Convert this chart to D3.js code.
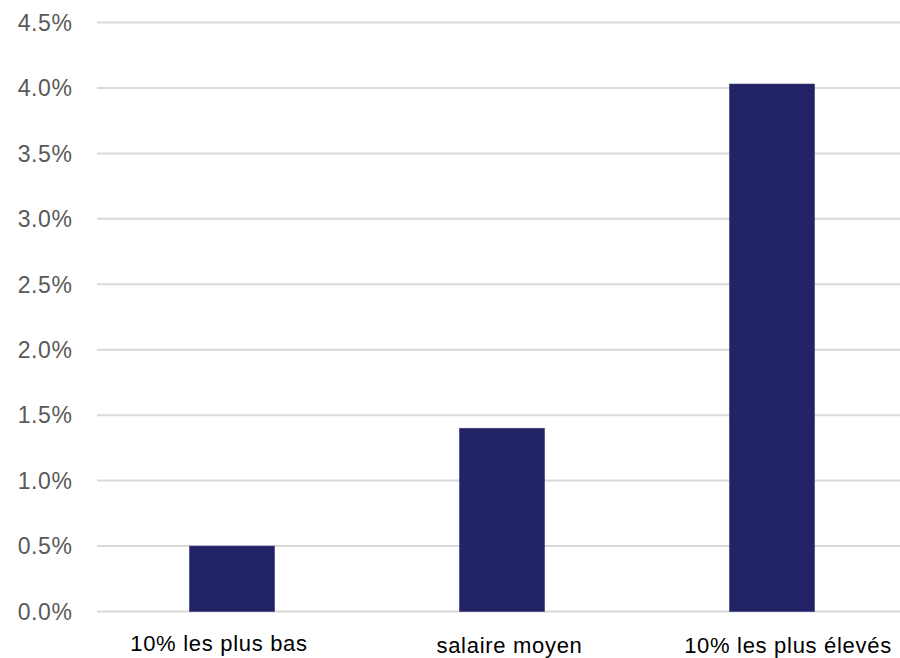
<!DOCTYPE html>
<html>
<head>
<meta charset="utf-8">
<script src="https://cdn.jsdelivr.net/npm/d3@7"></script>
<style>
  html, body { margin: 0; padding: 0; background: #fff; }
  svg { display: block; }
</style>
</head>
<body>
<svg id="chart" width="900" height="658"></svg>
<script>
const categories = ["10% les plus bas", "salaire moyen", "10% les plus élevés"];
const values = [0.5, 1.4, 4.03];
const yTicks = [0, 0.5, 1.0, 1.5, 2.0, 2.5, 3.0, 3.5, 4.0, 4.5];
const labelShift = [-13, 7.5, 16];

const svg = d3.select("#chart");
const W = 900, H = 658;

const x = d3.scaleBand().domain(categories).range([97, 907])
  .paddingInner(0.685).paddingOuter(0.3425);
const y = d3.scaleLinear().domain([0, 4.5]).range([611.5, 22.5]);

// grid lines
svg.append("g").selectAll("line").data(yTicks).join("line")
  .attr("x1", 97).attr("x2", W)
  .attr("y1", d => y(d)).attr("y2", d => y(d))
  .attr("stroke", "#d9d9d9").attr("stroke-width", 2);

// y tick labels
svg.append("g").selectAll("text").data(yTicks).join("text")
  .attr("x", 72.5).attr("y", d => y(d))
  .attr("dy", "0.36em")
  .attr("text-anchor", "end")
  .attr("font-family", "'Liberation Sans', Arial, sans-serif")
  .attr("font-size", 23)
  .attr("letter-spacing", 0.6)
  .attr("fill", "#595959")
  .text(d => d3.format(".1f")(d) + "%");

// bars
svg.append("g").selectAll("rect").data(values).join("rect")
  .attr("x", (d, i) => x(categories[i]))
  .attr("width", x.bandwidth())
  .attr("y", d => y(d))
  .attr("height", d => y(0) - y(d))
  .attr("fill", "#222366")
  .attr("stroke", "#3a3b78")
  .attr("stroke-width", 0.6);

// category labels
const baseY = [651, 653, 653];
svg.append("g").selectAll("text").data(categories).join("text")
  .attr("x", (d, i) => x(d) + x.bandwidth() / 2 + labelShift[i])
  .attr("y", (d, i) => baseY[i])
  .attr("text-anchor", "middle")
  .attr("font-family", "'Liberation Sans', Arial, sans-serif")
  .attr("font-size", 22)
  .attr("letter-spacing", 0.7)
  .attr("fill", "#000")
  .text(d => d);
</script>
</body>
</html>
